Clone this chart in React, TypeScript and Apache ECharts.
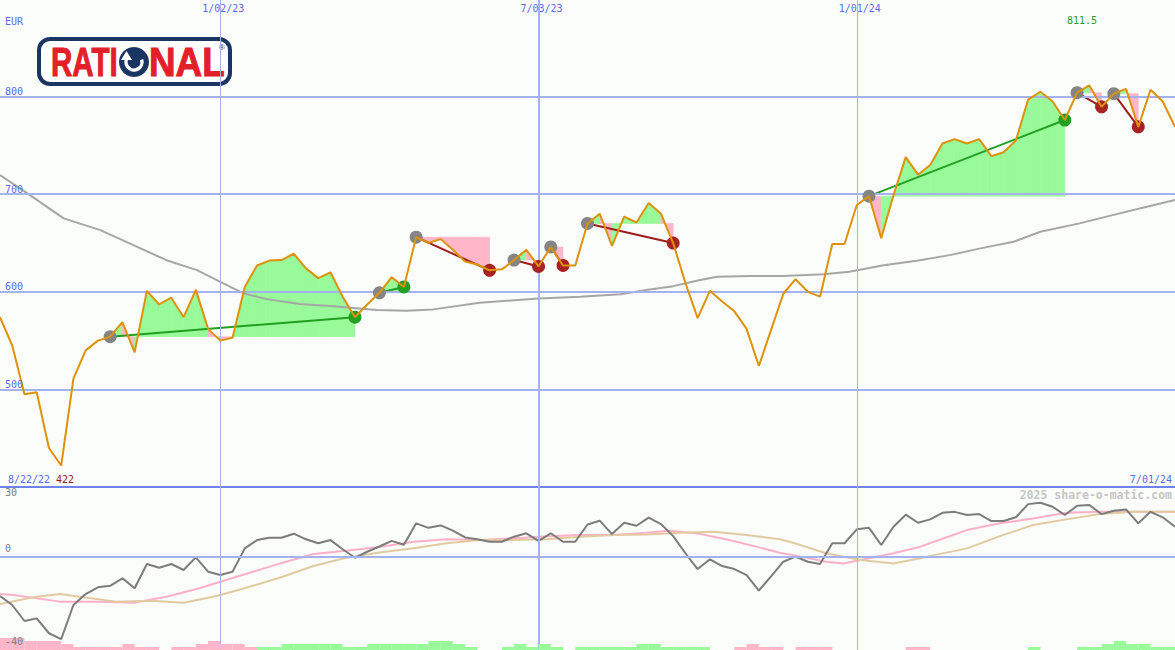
import React, { useEffect, useRef } from "react";
import * as echarts from "echarts";

// ---------- data (weekly points, index 0 = left edge, 96 = right edge) ----------
const price = [
  574, 545, 495, 497, 440, 422, 511, 540, 550, 554,
  569, 538, 601, 587, 594, 574, 602, 562, 550, 553,
  605, 627, 632, 632.5, 639, 624, 614, 620, 595, 574,
  587, 599, 615, 605, 656, 650, 654, 643, 631, 628,
  622, 623, 632.5, 643, 626, 646, 627, 627, 670, 680,
  647, 677, 671, 691, 680, 650, 609, 573, 601, 590,
  580, 562, 524, 561, 598, 613, 600, 595, 649, 649,
  689, 698, 655, 699, 738, 720, 730, 752, 756.5, 752,
  756.5, 739, 743, 755, 797, 805, 795, 776, 804, 811.5,
  789.5, 803, 808, 769, 807, 795, 769,
];

// moving average read at [week index, value]
const movingAverage: [number, number][] = [
  [0, 719.6], [2.45, 699.1], [5.2, 675.2], [8.2, 663.2], [10.9, 647.8], [13.6, 632.4],
  [16.1, 622.2], [18, 610.2], [19.9, 598.4], [21.8, 592.5], [24.5, 587.4], [27.2, 585.3],
  [30.8, 581.3], [33.2, 580.6], [35.4, 582], [39.2, 588.7], [44, 593.2], [47.4, 594.9],
  [50.7, 597.6], [52.8, 601.8], [55, 605.8], [57.2, 612], [58.6, 615.4], [61.3, 616.1],
  [64, 616.1], [67.3, 618.1], [69.4, 620.5], [72.2, 627.3], [74.9, 631.8], [77.6, 637.6],
  [80.1, 644.5], [82.8, 651.2], [85, 661.5], [88.2, 670.1], [90.9, 678.6], [93.7, 687.1],
  [96, 694],
];

// trades: [entry index, exit index]
const trades: [number, number][] = [
  [9, 29], [31, 33], [34, 40], [42, 44], [45, 46], [48, 55], [71, 87], [88, 90], [91, 93],
];

const oscillator = [
  -20.9, -25.7, -34.2, -32.8, -40.7, -43.8, -25.7, -19.9, -16.3, -15.5,
  -11.5, -16.8, -3.9, -5.9, -3.9, -7.1, -0.4, -8, -9.8, -8,
  4.4, 8.8, 10, 10, 12.2, 9.2, 7.1, 8.8, 3.9, -0.6,
  2.6, 5.4, 8.4, 6.3, 17.7, 15.3, 16.6, 13.8, 10.2, 9.2,
  7.9, 7.9, 10.6, 12.4, 8.4, 12.4, 7.9, 7.9, 17.1, 19.1,
  12, 18, 16.4, 20.7, 17.3, 10.9, 1.8, -6.6, -1.4, -5,
  -6.6, -9.8, -18, -10.5, -2.7, 0, -2.7, -3.9, 7.1, 7.1,
  14.5, 15.3, 6.2, 15.9, 22.3, 18, 19.8, 23.3, 23.8, 22.1,
  22.6, 18.9, 18.9, 20.9, 27.9, 28.6, 26.5, 22.1, 27, 27.4,
  22.6, 24.4, 25.1, 17.7, 23.8, 20.9, 15.9,
];

const fastAverage: [number, number][] = [
  [0, -19.9], [1.1, -20.4], [4.9, -23.9], [8.2, -23.9], [10.9, -24.5], [13.6, -21.3],
  [16.3, -16.8], [18, -13.3], [20.4, -8.6], [23.1, -3.2], [25.6, 1.4], [28.3, 3.1],
  [31, 5.1], [33.8, 7.9], [36.5, 9.2], [39.2, 8.8], [41.9, 9.7], [44, 10.6],
  [47.4, 11.5], [50.1, 11.5], [52.8, 12.7], [54.7, 13.8], [56.9, 12.4], [59.6, 8.8],
  [62.1, 4.8], [63.7, 2.1], [64.8, 0.8], [67.5, -2.7], [68.9, -3.6], [70.3, -1.8],
  [73, 1.8], [75.2, 5.3], [76.3, 7.9], [79, 14.1], [81.7, 17.7], [84.4, 20.3],
  [87.1, 23.3], [89.9, 23.8], [96, 23.8],
];

const slowAverage: [number, number][] = [
  [0, -25.2], [2.7, -21.6], [4.9, -19.9], [6.8, -21.6], [9.5, -23.9], [12.3, -23.4],
  [15, -24.5], [17.7, -20.9], [20.4, -16], [23.1, -10.7], [25.6, -5], [28.3, -0.6],
  [31, 2.2], [33.8, 4.4], [36.5, 7.1], [39.2, 8.8], [41.9, 8.8], [44.7, 9.2],
  [47.4, 10.6], [50.1, 11.5], [52.8, 11.8], [55.6, 12.7], [58.3, 13.2], [61, 11.5],
  [63.7, 9.2], [64.8, 7.4], [67.5, 1.8], [70.3, -1.8], [73, -3.6], [75.2, -0.9],
  [76.3, 0.8], [79, 4.4], [81.7, 10.9], [84.4, 16.8], [87.1, 19.8], [89.9, 22.6],
  [92.6, 23.8], [96, 23.8],
];

// weekly histogram (signed steps), one bar per week
const histogram = [
  -4, -4, -3, -3, -3, -2, -1, -1, -1, -1,
  -2, -1, -1, 0, -1, -1, -2, -3, -2, -2,
  -1, 1, 1, 2, 2, 2, 2, 2, 1, 1,
  2, 2, 2, 2, 2, 3, 3, 2, 1, 0,
  0, 1, 2, 1, 2, 1, 0, 1, 1, 1,
  1, 1, 2, 2, 1, 1, 1, 1, 0, 0,
  -1, -2, -1, -1, 0, -1, -1, -1, 0, 0,
  0, 0, 0, 0, -1, -1, 0, 0, 0, 0,
  0, 0, 0, 0, 1, 0, 0, 0, 1, 1,
  2, 3, 2, 2, 1, 1,
];

const priceTicks = [500, 600, 700, 800];
const oscTicks = [30, 0, -40];
const dateTicks = [18, 44, 70];
const dateLabels = ["1/02/23", "7/03/23", "1/01/24"];
const startLabel = "8/22/22";
const endLabel = "7/01/24";
const currency = "EUR";
const brandName = ["RATI", "NAL"];
const watermark = "2025 share-o-matic.com";

// ---------- styling ----------
const FONT = "DejaVu Sans Mono";
const BLUE = "#5a6ce8";
const GRID_C = "#a4b2f0";
const GREEN_FILL = "#98fa98";
const PINK_FILL = "#ffb6c8";
const W = 1175;
const H = 650;

export default function App() {
  const ref = useRef<HTMLDivElement>(null);

  useEffect(() => {
    const chart = echarts.init(ref.current!, null, { renderer: "svg" });
    const xMax = price.length - 1;

    const fillSegments: number[][] = [];
    trades.forEach(([a, b], t) => {
      for (let i = a; i < b; i++) fillSegments.push([t, i]);
    });

    const dots: any[] = [];
    trades.forEach(([a, b]) => {
      dots.push({ value: [a, price[a]], itemStyle: { color: "#858585", opacity: 1 } });
      dots.push({
        value: [b, price[b]],
        itemStyle: { color: price[b] > price[a] ? "#22a022" : "#a82222", opacity: 1 },
      });
    });

    const hi = Math.max(...price);
    const lo = Math.min(...price);

    const vLines = dateTicks.map((v, k) => ({
      xAxis: v,
      lineStyle: {
        color: k === 1 ? "#a4b2f0" : "#aab0e0",
        width: k === 1 ? 2 : 1,
        type: "solid",
      },
    }));

    const option: any = {
      animation: false,
      backgroundColor: "#fbfdfb",
      grid: [
        { left: 0, top: 0, width: W, height: 487 },
        { left: 0, top: 487, width: W, height: 163 },
        { left: 0, top: 630, width: W, height: 20 },
      ],
      xAxis: [
        {
          gridIndex: 0, type: "value", min: 0, max: xMax, position: "bottom",
          axisLine: { show: true, onZero: false, lineStyle: { color: "#7082f0", width: 2 } },
          axisTick: { show: false }, axisLabel: { show: false }, splitLine: { show: false },
        },
        {
          gridIndex: 0, type: "value", min: 0, max: xMax, position: "top",
          axisLine: { show: false }, axisTick: { show: false }, splitLine: { show: false },
          axisLabel: {
            show: true, inside: true, customValues: dateTicks,
            formatter: (v: number) => {
              const k = dateTicks.indexOf(v);
              return k >= 0 ? dateLabels[k] : "";
            },
            color: BLUE, fontFamily: FONT, fontSize: 10, margin: 3, padding: [0, 0, 0, 6],
          },
        },
        { gridIndex: 1, type: "value", min: 0, max: xMax, show: false },
        {
          gridIndex: 2, type: "category", show: false, boundaryGap: true,
          data: histogram.map((_, i) => i),
        },
      ],
      yAxis: [
        {
          gridIndex: 0, type: "value", min: 400, max: 899, z: 10,
          axisLine: { show: false }, axisTick: { show: false }, splitLine: { show: false },
          axisLabel: {
            inside: true, customValues: priceTicks, color: BLUE, fontFamily: FONT,
            fontSize: 10, margin: 5, verticalAlign: "bottom", align: "left",
          },
        },
        {
          gridIndex: 1, type: "value", min: -49.6, max: 37, z: 10,
          axisLine: { show: false }, axisTick: { show: false }, splitLine: { show: false },
          axisLabel: {
            inside: true, customValues: oscTicks, color: "#808080", fontFamily: FONT,
            fontSize: 10, margin: 5, verticalAlign: "middle", align: "left",
            formatter: (v: number) => (v < 0 ? `{lo|${v}}` : `{hi|${v}}`),
            rich: {
              hi: { lineHeight: 26, verticalAlign: "top", color: "#808080", fontFamily: FONT, fontSize: 10 },
              lo: { lineHeight: 30, verticalAlign: "bottom", color: "#808080", fontFamily: FONT, fontSize: 10 },
            },
          },
        },
        { gridIndex: 2, type: "value", min: 0, max: 20 / 3, show: false },
      ],
      series: [
        {
          type: "line", xAxisIndex: 0, yAxisIndex: 0, z: 1, silent: true,
          data: [[0, 400]], symbol: "none", lineStyle: { opacity: 0 },
          markLine: {
            silent: true, symbol: ["none", "none"], label: { show: false }, animation: false,
            data: [
              ...priceTicks.map((v) => ({ yAxis: v, lineStyle: { color: GRID_C, width: 2, type: "solid" } })),
              ...vLines,
            ],
          },
        },
        {
          type: "custom", xAxisIndex: 0, yAxisIndex: 0, z: 2, silent: true,
          data: fillSegments,
          renderItem: (_p: any, api: any) => {
            const t = api.value(0);
            const i = api.value(1);
            const level = price[trades[t][0]];
            const pts = [
              api.coord([i, level]),
              api.coord([i, price[i]]),
              api.coord([i + 1, price[i + 1]]),
              api.coord([i + 1, level]),
            ];
            const c = price[i + 1] > level ? GREEN_FILL : PINK_FILL;
            return { type: "polygon", shape: { points: pts }, style: { fill: c, stroke: c, lineWidth: 0.6 } };
          },
        },
        {
          type: "line", xAxisIndex: 0, yAxisIndex: 0, z: 3, silent: true,
          data: movingAverage, symbol: "none", lineStyle: { color: "#a6a6a6", width: 2 },
        },
        {
          type: "custom", xAxisIndex: 0, yAxisIndex: 0, z: 4, silent: true,
          data: trades.map((_, t) => [t, 0]),
          renderItem: (_p: any, api: any) => {
            const [a, b] = trades[api.value(0)];
            const p1 = api.coord([a, price[a]]);
            const p2 = api.coord([b, price[b]]);
            return {
              type: "line",
              shape: { x1: p1[0], y1: p1[1], x2: p2[0], y2: p2[1] },
              style: { stroke: price[b] > price[a] ? "#22a022" : "#a01c1c", lineWidth: 2 },
            };
          },
        },
        {
          type: "scatter", xAxisIndex: 0, yAxisIndex: 0, z: 5, silent: true,
          symbolSize: 13, data: dots, itemStyle: { opacity: 1 },
        },
        {
          type: "line", xAxisIndex: 0, yAxisIndex: 0, z: 6, silent: true,
          data: price.map((v, i) => [i, v]), symbol: "none",
          lineStyle: { color: "#de920c", width: 2 },
        },
        // bottom panel
        {
          type: "line", xAxisIndex: 2, yAxisIndex: 1, z: 1, silent: true,
          data: [[0, 0]], symbol: "none", lineStyle: { opacity: 0 },
          markLine: {
            silent: true, symbol: ["none", "none"], label: { show: false }, animation: false,
            data: [{ yAxis: 0, lineStyle: { color: GRID_C, width: 2, type: "solid" } }, ...vLines],
          },
        },
        {
          type: "line", xAxisIndex: 2, yAxisIndex: 1, z: 2, silent: true,
          data: fastAverage, symbol: "none", lineStyle: { color: "#ffb0c8", width: 2 },
        },
        {
          type: "line", xAxisIndex: 2, yAxisIndex: 1, z: 3, silent: true,
          data: slowAverage, symbol: "none", lineStyle: { color: "#e2caa0", width: 2 },
        },
        {
          type: "line", xAxisIndex: 2, yAxisIndex: 1, z: 4, silent: true,
          data: oscillator.map((v, i) => [i, v]), symbol: "none",
          lineStyle: { color: "#7c7c7c", width: 2 },
        },
        {
          type: "bar", xAxisIndex: 3, yAxisIndex: 2, z: 5, silent: true,
          barCategoryGap: "0%", barGap: "0%",
          data: histogram.map((v) => Math.abs(v)),
          itemStyle: {
            color: (p: any) => (histogram[p.dataIndex] >= 0 ? GREEN_FILL : PINK_FILL),
          },
        },
      ],
      graphic: [
        {
          type: "text", x: 5, y: 16, z: 10,
          style: { text: currency, fill: BLUE, font: `10px ${FONT}`, verticalAlign: "top" },
        },
        {
          type: "text", x: 8, y: 474, z: 10,
          style: { text: startLabel, fill: BLUE, font: `10px ${FONT}`, verticalAlign: "top" },
        },
        {
          type: "text", x: 56, y: 474, z: 10,
          style: { text: String(lo), fill: "#a01818", font: `10px ${FONT}`, verticalAlign: "top" },
        },
        {
          type: "text", x: 1172, y: 474, z: 10,
          style: { text: endLabel, fill: BLUE, font: `10px ${FONT}`, verticalAlign: "top", align: "right" },
        },
        {
          type: "text", x: 1082, y: 15, z: 10,
          style: { text: String(hi), fill: "#22a022", font: `10px ${FONT}`, verticalAlign: "top", align: "center" },
        },
        {
          type: "text", x: 1172, y: 489, z: 1,
          style: { text: watermark, fill: "#c6c6c6", font: `bold 11.5px ${FONT}`, verticalAlign: "top", align: "right" },
        },
        // logo
        {
          type: "group", z: 20,
          children: [
            {
              type: "rect", shape: { x: 39, y: 39, width: 191, height: 45, r: 11 },
              style: { fill: "#ffffff", stroke: "#1b3563", lineWidth: 4 },
            },
            {
              type: "text", x: 51, y: 62, scaleX: 0.74,
              style: {
                text: brandName[0], fill: "#e3202a", font: "bold 40px 'Liberation Sans'",
                verticalAlign: "middle", align: "left", stroke: "#e3202a", lineWidth: 1,
              },
            },
            {
              type: "circle", shape: { cx: 134, cy: 62, r: 15 },
              style: { fill: "#1b3563" },
            },
            {
              type: "arc", shape: { cx: 134, cy: 62, r: 8, startAngle: -0.3, endAngle: 3.9 },
              style: { stroke: "#ffffff", lineWidth: 3.5, fill: "none" },
            },
            {
              type: "polygon", shape: { points: [[121, 60], [132, 60], [126.5, 51]] },
              style: { fill: "#ffffff" },
            },
            {
              type: "text", x: 149, y: 62, scaleX: 0.92,
              style: {
                text: brandName[1], fill: "#e3202a", font: "bold 40px 'Liberation Sans'",
                verticalAlign: "middle", align: "left", stroke: "#e3202a", lineWidth: 1,
              },
            },
            {
              type: "text", x: 222, y: 47,
              style: { text: "®", fill: "#1b3563", font: "8px 'Liberation Sans'", verticalAlign: "middle", align: "center" },
            },
          ],
        },
      ],
    };

    chart.setOption(option);
    return () => chart.dispose();
  }, []);

  return (
    <div
      ref={ref}
      style={{ position: "fixed", left: 0, top: 0, width: W, height: H }}
    />
  );
}
